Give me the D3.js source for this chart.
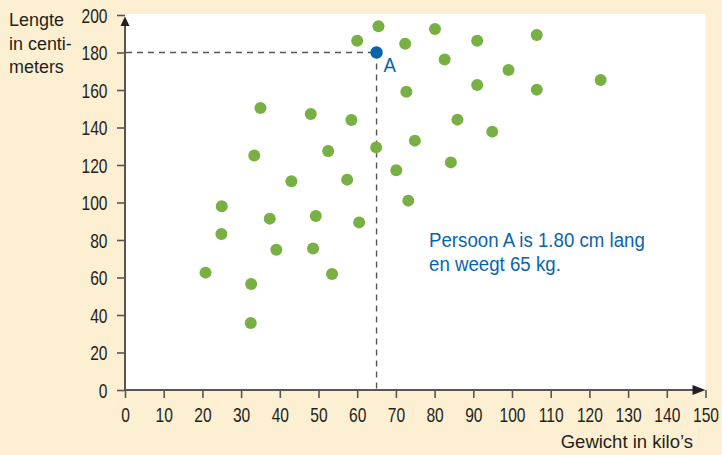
<!DOCTYPE html>
<html>
<head>
<meta charset="utf-8">
<script src="https://cdn.jsdelivr.net/npm/d3@7"></script>
<style>
  html, body { margin: 0; padding: 0; background: #fdefd2; }
  svg { display: block; }
  text { font-family: "Liberation Sans", Arial, sans-serif; fill: #231f20; }
</style>
</head>
<body>
<svg id="chart" width="722" height="455"></svg>
<script>
// Data: weight (kg) and height (cm)
const weights = [35, 48, 58.5, 72.7, 64.9, 74.9, 33.4, 52.5, 70.1, 43, 57.4, 73.2, 25, 37.4, 49.3, 60.5, 24.9, 39.1, 48.6, 20.8, 53.5, 32.6, 32.5,
                 60, 65.5, 72.4, 80.1, 91, 106.4, 82.6, 99.1, 91, 106.4, 85.9, 94.9, 84.2, 122.9];
const heights = [150.4, 147.2, 144, 159.1, 129.4, 133, 125.1, 127.5, 117.2, 111.3, 112.2, 101, 98, 91.4, 92.8, 89.4, 83.2, 74.8, 75.5, 62.6, 61.9, 56.5, 35.7,
                 186.3, 194, 184.7, 192.5, 186.3, 189.3, 176.3, 170.7, 162.7, 160.2, 144.2, 137.8, 121.4, 165.3];
const personA = { weight: 65, height: 180, label: "A" };
const xTicks = [0, 10, 20, 30, 40, 50, 60, 70, 80, 90, 100, 110, 120, 130, 140, 150];
const yTicks = [0, 20, 40, 60, 80, 100, 120, 140, 160, 180, 200];
const yTitle = ["Lengte", "in centi-", "meters"];
const xTitle = "Gewicht in kilo\u2019s";
const note = ["Persoon A is 1.80 cm lang", "en weegt 65 kg."];

const svg = d3.select("#chart");
const x = d3.scaleLinear().domain([0, 150]).range([125, 705.5]);
const y = d3.scaleLinear().domain([0, 200]).range([390, 15]);
const axisColor = "#5a5555";
const sx = 0.78;   // horizontal squeeze to mimic a condensed face
const sn = 0.89;

// plot area
svg.append("rect").attr("x", x(0)).attr("y", 14).attr("width", x(150) - x(0)).attr("height", y(0) - 14).attr("fill", "#ffffff");

// ticks via d3 axes
const xAxis = svg.append("g").attr("transform", `translate(0,${y(0)})`)
  .call(d3.axisBottom(x).tickValues(xTicks).tickSize(8).tickFormat(d3.format("d")));
const yAxis = svg.append("g").attr("transform", `translate(${x(0)},0)`)
  .call(d3.axisLeft(y).tickValues(yTicks).tickSize(8).tickFormat(d3.format("d")));
[xAxis, yAxis].forEach(g => {
  g.select(".domain").remove();
  g.selectAll(".tick line").attr("stroke", axisColor).attr("stroke-width", 1.6);
  g.selectAll(".tick text").attr("font-size", 20).attr("fill", "#231f20")
    .attr("transform", `scale(${sx},1)`);
});
xAxis.selectAll(".tick text").attr("x", 0).attr("y", 32).attr("dy", null);
yAxis.selectAll(".tick text").attr("x", -17.5 / sx).attr("dy", "0.35em");

// axis lines with arrows
svg.append("line").attr("x1", x(0)).attr("y1", y(0)).attr("x2", x(150) - 8).attr("y2", y(0))
  .attr("stroke", axisColor).attr("stroke-width", 2);
svg.append("line").attr("x1", x(0)).attr("y1", y(0)).attr("x2", x(0)).attr("y2", y(200) + 8)
  .attr("stroke", axisColor).attr("stroke-width", 2);
svg.append("path")
  .attr("d", `M${x(150)},${y(0)} L${x(150) - 13},${y(0) - 5} L${x(150) - 13},${y(0) + 5} Z`)
  .attr("fill", "#231f20");
svg.append("path")
  .attr("d", `M${x(0)},${y(200) + 1.5} L${x(0) - 4.5},${y(200) + 11} L${x(0) + 4.5},${y(200) + 11} Z`)
  .attr("fill", "#231f20");

// dashed guide lines for person A
svg.append("line").attr("x1", x(0) + 1).attr("y1", y(personA.height)).attr("x2", x(personA.weight)).attr("y2", y(personA.height))
  .attr("stroke", axisColor).attr("stroke-width", 1.4).attr("stroke-dasharray", "6,5");
svg.append("line").attr("x1", x(personA.weight)).attr("y1", y(personA.height)).attr("x2", x(personA.weight)).attr("y2", y(0) - 1)
  .attr("stroke", axisColor).attr("stroke-width", 1.4).attr("stroke-dasharray", "6,5");

// green points
svg.append("g").selectAll("circle").data(weights.map((w, i) => [w, heights[i]])).join("circle")
  .attr("cx", d => x(d[0])).attr("cy", d => y(d[1])).attr("r", 6).attr("fill", "#78b043");

// person A
svg.append("circle").attr("cx", x(personA.weight)).attr("cy", y(personA.height)).attr("r", 6.2).attr("fill", "#0b64ab");
svg.append("text").attr("transform", `translate(${x(personA.weight) + 7},${y(personA.height) + 19.5}) scale(${sn},1)`)
  .attr("font-size", 21).style("fill", "#0b64ab").text(personA.label);

// annotation
svg.append("g").selectAll("text").data(note).join("text")
  .attr("transform", (d, i) => `translate(429,${247 + i * 23.5}) scale(${sn},1)`)
  .attr("font-size", 21).style("fill", "#0b64ab").text(d => d);

// axis titles
svg.append("g").selectAll("text").data(yTitle).join("text")
  .attr("transform", (d, i) => `translate(9,${26 + i * 23.5}) scale(0.97,1)`)
  .attr("font-size", 18.5).text(d => d);
svg.append("text").attr("x", 693).attr("y", 448).attr("text-anchor", "end")
  .attr("font-size", 18.5).text(xTitle);
</script>
</body>
</html>
